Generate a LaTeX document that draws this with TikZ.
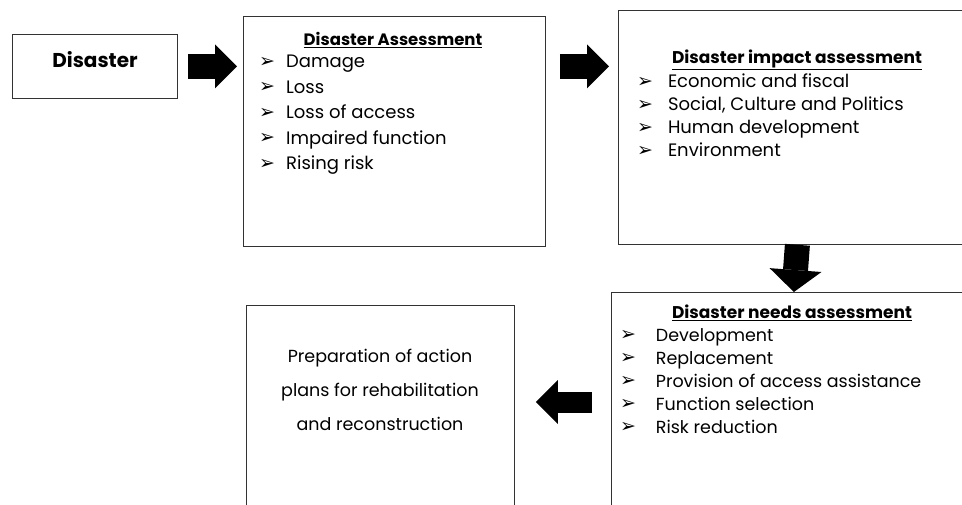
\documentclass[tikz,border=0pt]{standalone}
\usepackage{fontspec}
\setmainfont{Poppins}
\newfontfamily\symbfont{DejaVu Sans}
\usetikzlibrary{calc,
                positioning,
                arrows.meta
                }

% Aufzaehlungszeichen (Breite des Einzugs als Argument)
\newcommand{\aufz}[1][27pt]{\makebox[#1][l]{\raisebox{0.5pt}{\symbfont\fontsize{19}{19}\selectfont ➢}}}

\tikzset{
    kasten/.style={draw=black!80, line width=0.8pt, inner sep=0pt},
    titel/.style={font=\bfseries\fontsize{17}{17}\selectfont},
    liste/.style={align=left, anchor=north west, inner sep=0pt},
    blockpfeil/.style={line width=25pt,
        -{Triangle[length=22pt, width=44pt, line width=0pt]}}
}

\begin{document}
\begin{tikzpicture}[x=1pt, y=-1pt]
    \useasboundingbox (0,0) rectangle (962,504);
    \clip (0,0) rectangle (962,504);

    % Kaesten
    \node [kasten, anchor=north west, minimum width=165, minimum height=64] (dis) at (12,34) {};
    \node [kasten, anchor=north west, minimum width=302, minimum height=230] (ass) at (243,16) {};
    \node [kasten, anchor=north west, minimum width=358, minimum height=234] (imp) at (618,10) {};
    \node [kasten, anchor=north west, minimum width=365, minimum height=240] (need) at (611,292) {};
    \node [kasten, anchor=north west, minimum width=268, minimum height=225] (act) at (246,305) {};

    % Texte
    \node [font=\bfseries\fontsize{20}{20}\selectfont] (distext) at (95,60) {Disaster};

    \node [titel, font=\bfseries\fontsize{16.5}{16.5}\selectfont] (asstitel) at (393,40) {\underline{Disaster Assessment}};
    \node [liste, font=\fontsize{18}{25.5}\selectfont] (assliste) at (259,55)
        {\aufz Damage\\ \aufz Loss\\ \aufz Loss of access\\ \aufz Impaired function\\ \aufz Rising risk};

    \node [titel] (imptitel) at (797,60) {\underline{Disaster impact assessment}};
    \node [liste, font=\fontsize{18}{23}\selectfont] (impliste) at (637,74)
        {\aufz[26pt] Economic and fiscal\\ \aufz[26pt] Social, Culture and Politics\\ \aufz[26pt] Human development\\ \aufz[26pt] Environment};

    \node [titel] (needtitel) at (792,313) {\underline{Disaster needs assessment}};
    \node [liste, font=\fontsize{17.5}{23}\selectfont] (needliste) at (620,328)
        {\aufz[31pt] Development\\ \aufz[31pt] Replacement\\ \aufz[31pt] Provision of access assistance\\ \aufz[31pt] Function selection\\ \aufz[31pt] Risk reduction};

    \node [align=center, font=\fontsize{17.5}{34}\selectfont] (acttext) at (380,390)
        {Preparation of action\\ plans for rehabilitation\\ and reconstruction};

    % Blockpfeile
    \draw [blockpfeil] ($(dis.east)+(10,0)$) -- ($(dis.east -| ass.west)+(-6,0)$);
    \draw [blockpfeil] ($(ass.east |- dis.east)+(14,0)$) -- ($(imp.west |- dis.east)+(-9,0)$);
    \draw [blockpfeil, -{Triangle[length=22pt, width=52pt, line width=0pt]}] (imp.south) -- (need.north);
    \draw [blockpfeil, line width=21pt] ($(need.west |- acttext.center)+(-19,12)$) -- ($(act.east |- acttext.center)+(21,12)$);

\end{tikzpicture}
\end{document}
